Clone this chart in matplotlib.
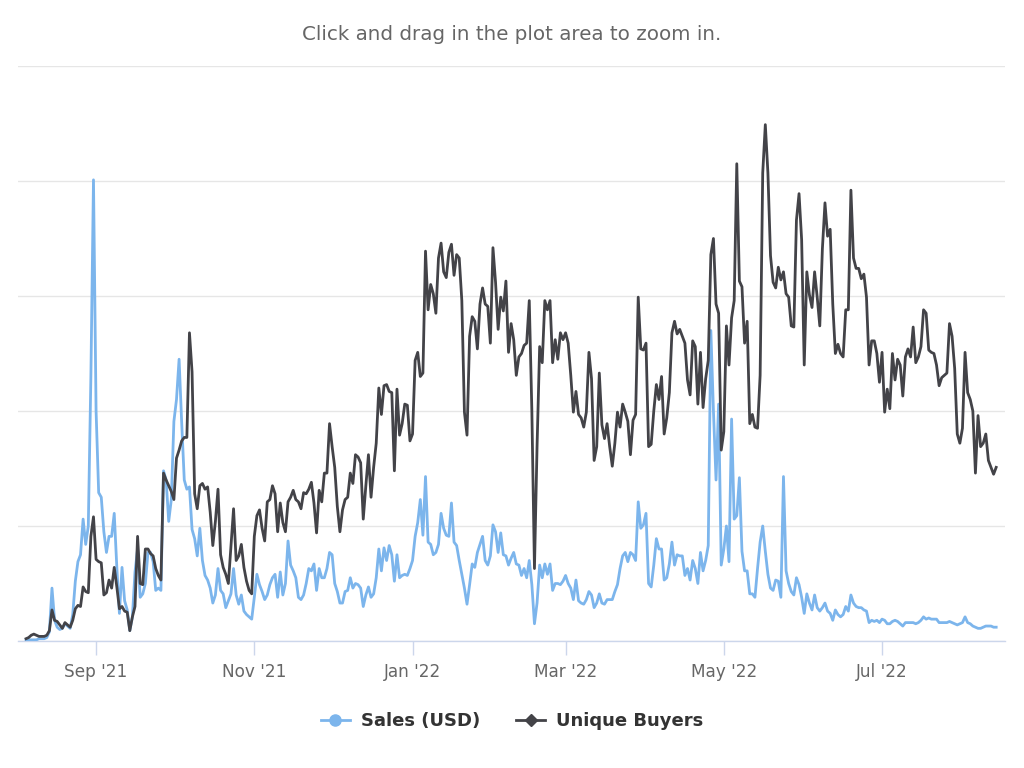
import matplotlib
matplotlib.use("Agg")
import matplotlib.pyplot as plt
import matplotlib.dates as mdates
from matplotlib.lines import Line2D
import pandas as pd

start_date = "2021-08-05"

buyers = [
    2, 3, 5, 6, 5, 4, 4, 4, 5, 9,
    27, 18, 17, 14, 11, 16, 14, 12, 18, 28,
    31, 30, 47, 43, 42, 91, 108, 71, 69, 68,
    40, 42, 53, 46, 64, 47, 28, 30, 26, 25,
    9, 21, 30, 91, 50, 49, 80, 80, 76, 74,
    63, 57, 53, 146, 140, 135, 130, 123, 159, 166,
    174, 177, 177, 268, 234, 128, 115, 135, 137, 132,
    134, 112, 83, 104, 132, 75, 64, 58, 50, 83,
    115, 70, 74, 84, 64, 52, 44, 41, 91, 109,
    114, 98, 87, 121, 123, 135, 128, 95, 120, 103,
    95, 121, 125, 131, 123, 121, 115, 129, 128, 132,
    138, 120, 94, 131, 121, 146, 146, 189, 169, 151,
    117, 95, 114, 123, 125, 146, 137, 162, 160, 155,
    106, 135, 162, 125, 151, 172, 220, 197, 222, 223,
    217, 216, 148, 219, 179, 189, 206, 205, 174, 180,
    244, 251, 230, 233, 339, 288, 310, 302, 285, 333,
    346, 321, 316, 338, 345, 318, 336, 333, 296, 199,
    179, 265, 282, 278, 254, 293, 307, 293, 291, 259,
    342, 312, 271, 299, 287, 313, 251, 276, 262, 231,
    247, 250, 257, 259, 296, 200, 63, 169, 256, 242,
    296, 288, 296, 242, 262, 245, 268, 262, 268, 259,
    231, 199, 217, 197, 194, 186, 199, 251, 228, 157,
    169, 233, 188, 176, 189, 169, 152, 172, 199, 186,
    206, 199, 191, 162, 192, 197, 299, 254, 253, 259,
    169, 171, 200, 223, 210, 230, 180, 194, 216, 268,
    278, 267, 271, 265, 259, 227, 214, 261, 256, 206,
    251, 203, 228, 244, 336, 350, 293, 285, 166, 182,
    274, 240, 281, 296, 415, 313, 308, 259, 278, 189,
    197, 186, 185, 231, 407, 449, 407, 335, 312, 307,
    325, 314, 321, 302, 299, 274, 273, 366, 389, 349,
    240, 321, 301, 290, 321, 299, 274, 341, 381, 352,
    358, 293, 250, 258, 250, 247, 288, 288, 392, 333,
    324, 324, 315, 319, 299, 240, 261, 261, 250, 225,
    251, 199, 219, 202, 250, 227, 245, 240, 213, 247,
    254, 247, 273, 242, 247, 256, 288, 285, 253, 251,
    250, 240, 222, 229, 231, 233, 276, 265, 237, 180,
    172, 185, 251, 216, 210, 200, 146, 196, 169, 172,
    180, 157, 151, 145, 151,
]

sales = [
    1, 1, 1, 1, 1, 2, 2, 2, 3, 8,
    46, 18, 12, 10, 11, 15, 13, 11, 23, 52,
    69, 75, 106, 84, 100, 230, 401, 200, 129, 125,
    95, 77, 91, 91, 111, 64, 24, 64, 35, 27,
    9, 21, 60, 80, 38, 41, 50, 77, 77, 69,
    44, 46, 44, 148, 140, 104, 123, 191, 210, 245,
    190, 140, 132, 134, 97, 89, 74, 98, 70, 57,
    53, 46, 33, 40, 63, 44, 41, 29, 35, 41,
    63, 40, 32, 40, 26, 23, 21, 19, 38, 58,
    49, 43, 36, 40, 49, 55, 58, 38, 60, 40,
    50, 87, 66, 61, 55, 38, 36, 40, 50, 63,
    61, 67, 44, 63, 55, 55, 63, 77, 75, 50,
    43, 33, 33, 43, 44, 55, 46, 50, 49, 46,
    30, 40, 47, 38, 41, 55, 80, 61, 81, 70,
    83, 75, 52, 75, 55, 57, 58, 57, 63, 70,
    91, 103, 123, 92, 143, 86, 84, 75, 77, 84,
    111, 98, 92, 91, 120, 86, 83, 70, 58, 46,
    32, 49, 67, 64, 77, 84, 91, 70, 66, 74,
    101, 95, 77, 94, 75, 74, 66, 72, 77, 67,
    66, 57, 63, 55, 70, 49, 15, 33, 66, 55,
    67, 58, 67, 44, 50, 50, 49, 52, 57, 50,
    46, 36, 53, 35, 33, 32, 36, 43, 40, 29,
    33, 41, 33, 32, 36, 36, 36, 43, 49, 63,
    74, 77, 69, 77, 75, 70, 121, 98, 101, 111,
    50, 47, 66, 89, 80, 80, 53, 55, 67, 86,
    66, 75, 74, 74, 57, 63, 53, 70, 63, 50,
    77, 61, 70, 83, 270, 200, 140, 206, 66, 80,
    100, 69, 193, 106, 109, 142, 78, 61, 61, 41,
    41, 38, 63, 86, 100, 78, 58, 46, 44, 53,
    52, 38, 143, 61, 50, 43, 40, 55, 49, 38,
    24, 41, 33, 27, 40, 29, 26, 29, 33, 26,
    24, 18, 27, 23, 21, 23, 30, 26, 40, 33,
    30, 29, 29, 27, 26, 16, 18, 17, 18, 16,
    19, 18, 15, 15, 17, 18, 17, 15, 13, 16,
    16, 16, 16, 15, 16, 18, 21, 19, 20, 19,
    19, 19, 16, 16, 16, 16, 17, 16, 15, 14,
    15, 16, 21, 16, 15, 13, 12, 11, 11, 12,
    13, 13, 13, 12, 12,
]

tick_dates = ["2021-09-01", "2021-11-01", "2022-01-01", "2022-03-01", "2022-05-01", "2022-07-01"]
tick_labels = ["Sep '21", "Nov '21", "Jan '22", "Mar '22", "May '22", "Jul '22"]

n = min(len(buyers), len(sales))
dates = pd.date_range(start_date, periods=n, freq="D")

fig = plt.figure(figsize=(10.24, 7.68), dpi=100)
ax = fig.add_axes([18 / 1024, 1 - 641 / 768, (1005 - 18) / 1024, (641 - 66) / 768])

sales_color = "#7cb5ec"
buyers_color = "#434348"

ax.plot(dates, sales[:n], color=sales_color, lw=2.0, zorder=3, solid_joinstyle="round")
ax.plot(dates, buyers[:n], color=buyers_color, lw=2.0, zorder=4, solid_joinstyle="round")

x0 = pd.Timestamp(start_date) - pd.Timedelta(days=3.1)
x1 = pd.Timestamp(start_date) + pd.Timedelta(days=377.4)
ax.set_xlim(x0, x1)
ax.set_ylim(0, 500)
ax.set_yticks([0, 100, 200, 300, 400, 500])
ax.set_yticklabels([])
ax.tick_params(axis="y", length=0)
ax.grid(axis="y", color="#e6e6e6", lw=1.0)
ax.set_axisbelow(True)

ax.set_xticks(pd.to_datetime(tick_dates))
ax.set_xticklabels(tick_labels, color="#666666", fontsize=12.2)
ax.tick_params(axis="x", length=10, width=1, color="#ccd6eb", pad=6)

for s in ["left", "right", "top"]:
    ax.spines[s].set_visible(False)
ax.spines["bottom"].set_color("#ccd6eb")
ax.spines["bottom"].set_linewidth(1.0)

fig.text(0.5, 1 - 34 / 768, "Click and drag in the plot area to zoom in.",
         ha="center", va="center", color="#666666", fontsize=14.3)

handles = [
    Line2D([0], [0], color=sales_color, lw=2, marker="o", markersize=8),
    Line2D([0], [0], color=buyers_color, lw=2, marker="D", markersize=6),
]
leg = fig.legend(handles, ["Sales (USD)", "Unique Buyers"], loc="center",
                 bbox_to_anchor=(0.5, 1 - 721 / 768), ncol=2, frameon=False,
                 handlelength=1.6, columnspacing=2.0, handletextpad=0.6,
                 prop={"weight": "bold", "size": 13})
for t in leg.get_texts():
    t.set_color("#333333")

fig.savefig("out.png", dpi=100)
